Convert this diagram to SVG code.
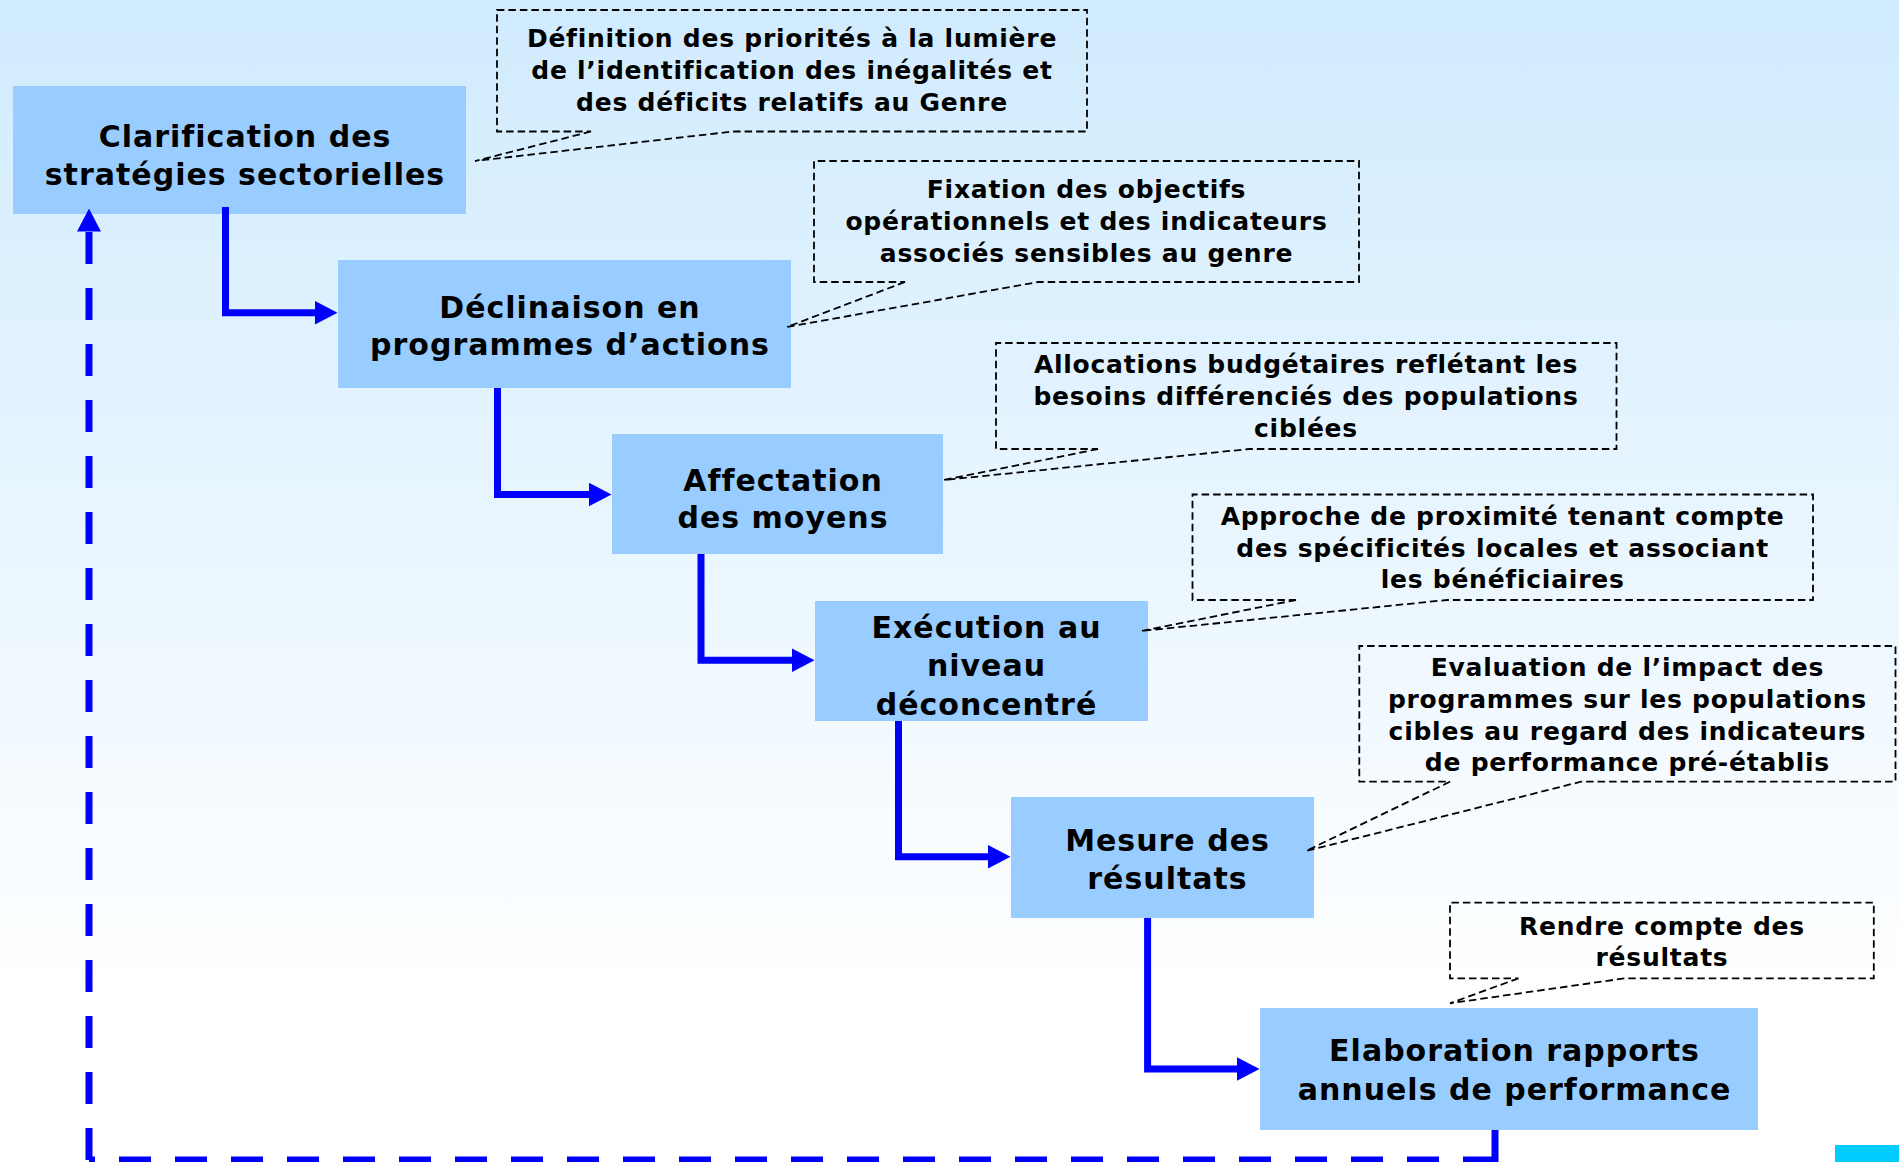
<svg xmlns="http://www.w3.org/2000/svg" width="1899" height="1162" viewBox="0 0 1899 1162">
<defs>
<linearGradient id="bg" gradientUnits="userSpaceOnUse" x1="0" y1="0" x2="0" y2="1000">
<stop offset="0" stop-color="#d0ebfe"/>
<stop offset="1" stop-color="#ffffff"/>
</linearGradient>
<marker id="ah" markerUnits="userSpaceOnUse" viewBox="0 0 23 24" markerWidth="23" markerHeight="24" refX="0.5" refY="12" orient="auto">
<path d="M0 0 L23 12 L0 24 Z" fill="#0000ff"/>
</marker>
<style>
.box{fill:#99ccff;}
.bt{font-family:"DejaVu Sans",Verdana,sans-serif;font-weight:bold;font-size:30px;letter-spacing:1px;fill:#000;text-anchor:middle;}
.ct{font-family:"DejaVu Sans",Verdana,sans-serif;font-weight:bold;font-size:25px;letter-spacing:0.75px;fill:#000;text-anchor:middle;}
.call{fill:none;stroke:#000;stroke-width:1.8;stroke-dasharray:7.5 4;}
.flow{fill:none;stroke:#0000ff;stroke-width:7;stroke-linejoin:miter;marker-end:url(#ah);}
.ret{fill:none;stroke:#0000ff;stroke-width:7;stroke-dasharray:32 24;}
</style>
</defs>
<rect x="0" y="0" width="1899" height="1162" fill="url(#bg)"/>

<g id="box1"><rect class="box" x="13" y="86" width="453" height="128"/>
<text class="bt" x="245" y="146.7">Clarification des</text>
<text class="bt" x="245" y="185">stratégies sectorielles</text></g>

<g id="box2"><rect class="box" x="338" y="260" width="453" height="128"/>
<text class="bt" x="570" y="318">Déclinaison en</text>
<text class="bt" x="570" y="355">programmes d’actions</text></g>

<g id="box3"><rect class="box" x="612" y="434" width="331" height="120"/>
<text class="bt" x="783" y="491">Affectation</text>
<text class="bt" x="783" y="528.3">des moyens</text></g>

<g id="box4"><rect class="box" x="815" y="601" width="333" height="120"/>
<text class="bt" x="986.5" y="638.3">Exécution au</text>
<text class="bt" x="986.5" y="676">niveau</text>
<text class="bt" x="986.5" y="714.7">déconcentré</text></g>

<g id="box5"><rect class="box" x="1011" y="797" width="303" height="121"/>
<text class="bt" x="1167.5" y="851">Mesure des</text>
<text class="bt" x="1167.5" y="888.5">résultats</text></g>

<g id="box6"><rect class="box" x="1260" y="1008" width="498" height="122"/>
<text class="bt" x="1514.5" y="1060.6">Elaboration rapports</text>
<text class="bt" x="1514.5" y="1100">annuels de performance</text></g>

<g id="callout1"><path class="call" d="M591 131.5 L475 161 L733 131.5 H1087 V10 H497 V131.5 Z"/>
<text class="ct" x="792" y="46.7">Définition des priorités à la lumière</text>
<text class="ct" x="792" y="79.3">de l’identification des inégalités et</text>
<text class="ct" x="792" y="111">des déficits relatifs au Genre</text></g>

<g id="callout2"><path class="call" d="M905 282 L787 327 L1038 282 H1359 V161 H814 V282 Z"/>
<text class="ct" x="1086.5" y="198">Fixation des objectifs</text>
<text class="ct" x="1086.5" y="230">opérationnels et des indicateurs</text>
<text class="ct" x="1086.5" y="262">associés sensibles au genre</text></g>

<g id="callout3"><path class="call" d="M1098 449 L944 480 L1249 449 H1616.5 V343 H996 V449 Z"/>
<text class="ct" x="1306" y="373.3">Allocations budgétaires reflétant les</text>
<text class="ct" x="1306" y="405">besoins différenciés des populations</text>
<text class="ct" x="1306" y="436.7">ciblées</text></g>

<g id="callout4"><path class="call" d="M1296 600 L1141 631 L1447 600 H1813 V494.5 H1192.5 V600 Z"/>
<text class="ct" x="1502.6" y="525">Approche de proximité tenant compte</text>
<text class="ct" x="1502.6" y="556.7">des spécificités locales et associant</text>
<text class="ct" x="1502.6" y="588.3">les bénéficiaires</text></g>

<g id="callout5"><path class="call" d="M1450 781.7 L1306 851 L1581 781.7 H1895.5 V646 H1359.3 V781.7 Z"/>
<text class="ct" x="1627.4" y="676">Evaluation de l’impact des</text>
<text class="ct" x="1627.4" y="707.5">programmes sur les populations</text>
<text class="ct" x="1627.4" y="739.8">cibles au regard des indicateurs</text>
<text class="ct" x="1627.4" y="771.3">de performance pré-établis</text></g>

<g id="callout6"><path class="call" d="M1518.5 978.3 L1450 1003.3 L1624.7 978.3 H1873.8 V902.7 H1450 V978.3 Z"/>
<text class="ct" x="1662" y="935">Rendre compte des</text>
<text class="ct" x="1662" y="965.7">résultats</text></g>

<g id="connectors">
<path class="flow" d="M225.5 207 V312.7 H315"/>
<path class="flow" d="M497.5 388 V494.5 H589"/>
<path class="flow" d="M701 554 V660.3 H792"/>
<path class="flow" d="M898.5 721 V856.7 H988"/>
<path class="flow" d="M1147.6 918 V1069 H1237"/>
<path fill="none" stroke="#0000ff" stroke-width="7" d="M1495 1130 V1164"/>
<path class="ret" d="M1495 1160 H89"/>
<path class="ret" d="M89 1160 V231" marker-end="url(#ah)"/>
</g>

<rect x="1835" y="1145" width="64" height="17" fill="#00ccff"/>
</svg>
